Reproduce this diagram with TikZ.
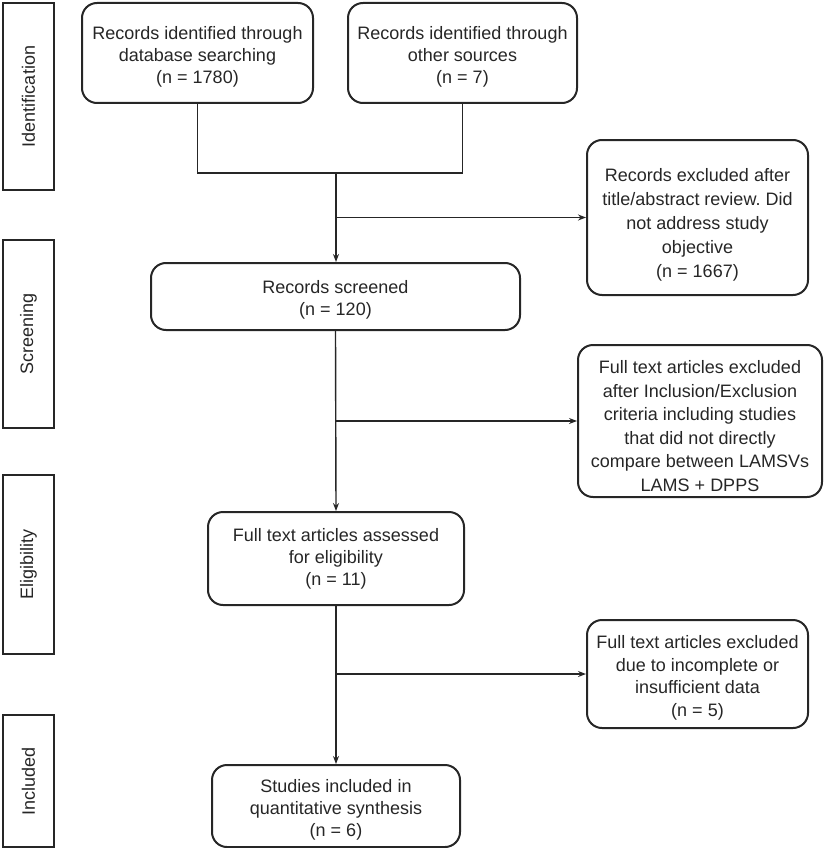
\documentclass[tikz,border=0pt]{standalone}
\usepackage{fontspec}
\setmainfont{Liberation Sans}
\usetikzlibrary{arrows.meta}
\definecolor{ink}{HTML}{262626}
\frenchspacing
\newcommand{\lift}[1]{\rule{0pt}{#1}}
\begin{document}
\begin{tikzpicture}[x=1pt,y=-1pt,
  every node/.style={font=\fontsize{18}{22}\selectfont, text=ink},
  wide/.style={font=\fontsize{18}{24}\selectfont},
  stage/.style={draw=ink, line width=2pt, rectangle, rotate=90, inner sep=0pt, minimum height=51pt},
  flowbox/.style={draw=ink, line width=2pt, rectangle, rounded corners=15pt, align=center, inner sep=0pt},
  link/.style={draw=ink, line width=1.4pt},
  arr/.style={link, -{Stealth[length=8pt,width=6pt]}}
]
\useasboundingbox (0,0) rectangle (826,848);

% stage labels
\node[stage, minimum width=187pt] (sid) at (28.5,96.5) {Identification};
\node[stage, minimum width=188pt] (sscr) at (28.5,334) {Screening};
\node[stage, minimum width=179pt] (seli) at (28.5,564.5) {Eligibility};
\node[stage, minimum width=132pt] (sinc) at (28.5,781) {Included};

% main boxes
\node[flowbox, minimum width=231pt, minimum height=100pt] (db) at (197.5,53)
  {\lift{21pt}Records identified through\\database searching\\(n = 1780)};
\node[flowbox, minimum width=229pt, minimum height=100pt] (oth) at (462.5,53)
  {\lift{21pt}Records identified through\\other sources\\(n = 7)};
\node[flowbox, wide, minimum width=221pt, minimum height=155pt] (ex1) at (697.5,217.5)
  {\lift{28pt}Records excluded after\\title/abstract review. Did\\not address study\\objective\\(n = 1667)};
\node[flowbox, minimum width=369pt, minimum height=67pt] (scrn) at (335.5,296.5)
  {\lift{20pt}Records screened\\(n = 120)};
\node[flowbox, font=\fontsize{18}{23.6}\selectfont, minimum width=244pt, minimum height=152pt] (ex2) at (700,421)
  {\lift{23pt}Full text articles excluded\\after Inclusion/Exclusion\\criteria including studies\\that did not directly\\compare between LAMSVs\\LAMS + DPPS};
\node[flowbox, minimum width=256pt, minimum height=93pt] (elig) at (336,558.5)
  {Full text articles assessed\\for eligibility\\(n = 11)};
\node[flowbox, font=\fontsize{18}{22.7}\selectfont, minimum width=221pt, minimum height=108pt] (ex3) at (697.5,674)
  {\lift{21pt}Full text articles excluded\\due to incomplete or\\insufficient data\\(n = 5)};
\node[flowbox, minimum width=248pt, minimum height=82pt] (incl) at (336,806)
  {\lift{21pt}Studies included in\\quantitative synthesis\\(n = 6)};

% junctions
\coordinate (j) at (336,173);
\coordinate (b1) at (336,217.5);
\coordinate (b2) at (336,421);
\coordinate (b3) at (336,674);

\draw[link] (db.south) |- (j) -| (oth.south);
\draw[arr] (j) -- (j |- scrn.north);
\draw[arr] (b1) -- (ex1.west);
\draw[arr] (scrn.south) -- (elig.north);
\draw[arr] (b2) -- (ex2.west);
\draw[arr] (elig.south) -- (incl.north);
\draw[arr] (b3) -- (ex3.west);
\end{tikzpicture}
\end{document}
